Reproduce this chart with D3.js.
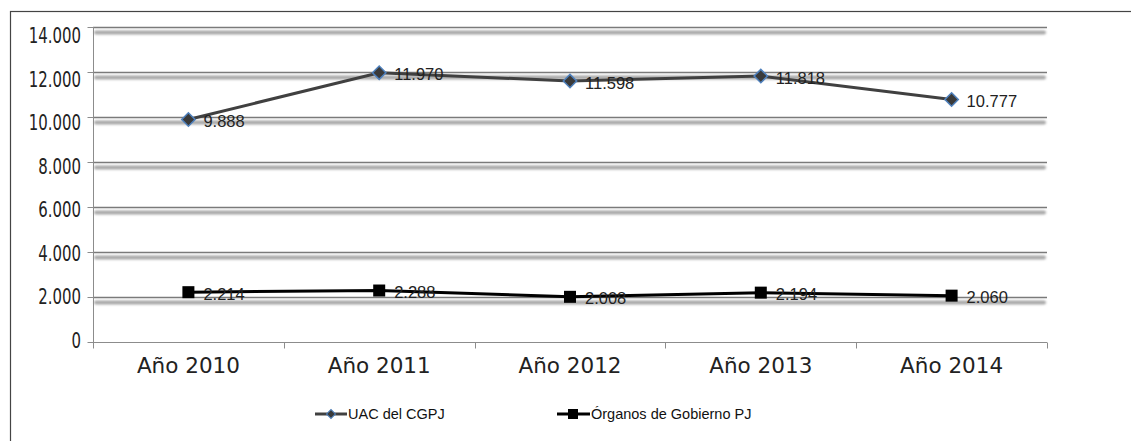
<!DOCTYPE html>
<html><head><meta charset="utf-8">
<script src="https://cdn.jsdelivr.net/npm/d3@7"></script>
<style>body{margin:0;background:#fff}</style>
</head><body>
<svg id="c" width="1131" height="441"></svg>
<script>
const categories = ["Año 2010","Año 2011","Año 2012","Año 2013","Año 2014"];
const uacValues = [9888, 11970, 11598, 11818, 10777];
const organosValues = [2214, 2288, 2008, 2194, 2060];
const yTicks = [0,2000,4000,6000,8000,10000,12000,14000];
const seriesNames = ["UAC del CGPJ","Órganos de Gobierno PJ"];

const svg = d3.select("#c");
const defs = svg.append("defs");
const f = defs.append("filter").attr("id","blur").attr("filterUnits","userSpaceOnUse")
  .attr("x",0).attr("y",0).attr("width",1131).attr("height",441);
f.append("feGaussianBlur").attr("stdDeviation","1.3");

// outer frame
svg.append("rect").attr("x",10.5).attr("y",11.5).attr("width",1140).attr("height",440)
  .attr("fill","none").attr("stroke","#444").attr("stroke-width",1.2);

const L=93, R=1047, T=27, B=342;
const x = d3.scaleBand().domain(categories).range([L,R]);
const y = d3.scaleLinear().domain([0,14000]).range([B,T]);
const fmt = v => d3.format(",")(v).replace(/,/g,".");

// gridlines with shadow
const g = svg.append("g");
yTicks.filter(t=>t>0).forEach(t=>{
  g.append("rect").attr("x",L+1).attr("width",R-L-2).attr("y",y(t)+3.5).attr("height",4).attr("rx",2)
    .attr("fill","#a8a8a8").attr("filter","url(#blur)");
  g.append("line").attr("x1",L).attr("x2",R).attr("y1",y(t)+0.5).attr("y2",y(t)+0.5)
    .attr("stroke","#7a7a7a").attr("stroke-width",1.5);
});

// y axis
const ya = svg.append("g").attr("transform",`translate(${L+0.5},0)`)
  .call(d3.axisLeft(y).tickValues(yTicks).tickSize(6).tickPadding(8).tickFormat(d=>fmt(d)));
ya.select(".domain").attr("stroke","#8c8c8c").attr("d",`M0,${T}V${B}`);
ya.selectAll(".tick line").attr("stroke","#8c8c8c");
const sx = 0.79;
ya.selectAll(".tick text").attr("font-family","'DejaVu Sans Condensed', sans-serif")
  .attr("font-size",21).attr("fill","#222")
  .attr("dy", d => (7.6 - 2.5 + (B - y(d))*0.033) + "px")
  .attr("x", -12.5/sx).attr("transform",`scale(${sx},1)`);

// x axis
const xa = svg.append("g").attr("transform",`translate(0,${B+0.5})`)
  .call(d3.axisBottom(x).tickSize(0).tickPadding(15));
xa.select(".domain").attr("stroke","#8c8c8c").attr("d",`M${L},0H${R}`);
xa.selectAll(".tick text").attr("font-family","DejaVu Sans").attr("font-size",21.5).attr("fill","#222");
const bounds = categories.map(c=>x(c)).concat([R]);
bounds.forEach(bx=>{
  xa.append("line").attr("x1",Math.round(bx)+0.5).attr("x2",Math.round(bx)+0.5).attr("y1",0).attr("y2",6).attr("stroke","#8c8c8c");
});

const cx = c => x(c)+x.bandwidth()/2;

// lines
const line = d3.line().x((d,i)=>cx(categories[i])).y(d=>y(d));
svg.append("path").datum(uacValues).attr("d",line).attr("fill","none").attr("stroke","#404040").attr("stroke-width",3);
svg.append("path").datum(organosValues).attr("d",line).attr("fill","none").attr("stroke","#000").attr("stroke-width",3);

uacValues.forEach((v,i)=>{
  svg.append("path").attr("d",d3.symbol().type(d3.symbolSquare).size(90)())
    .attr("transform",`translate(${cx(categories[i])},${y(v)}) rotate(45)`)
    .attr("fill","#3a3a3a").attr("stroke","#4f81bd").attr("stroke-width",1.5);
  svg.append("text").attr("x",cx(categories[i])+15).attr("y",y(v)+7.5)
    .attr("font-family","Liberation Sans").attr("font-size",16.5).attr("fill","#222").text(fmt(v));
});
organosValues.forEach((v,i)=>{
  svg.append("rect").attr("x",cx(categories[i])-6).attr("y",y(v)-6).attr("width",12).attr("height",12).attr("fill","#000");
  svg.append("text").attr("x",cx(categories[i])+15).attr("y",y(v)+7.5)
    .attr("font-family","Liberation Sans").attr("font-size",16.5).attr("fill","#222").text(fmt(v));
});

// legend
const lg = svg.append("g");
lg.append("line").attr("x1",315).attr("x2",347).attr("y1",414).attr("y2",414).attr("stroke","#404040").attr("stroke-width",3);
lg.append("path").attr("d",d3.symbol().type(d3.symbolSquare).size(40)()).attr("transform","translate(331,414) rotate(45)")
  .attr("fill","#3a3a3a").attr("stroke","#4f81bd").attr("stroke-width",1);
lg.append("text").attr("x",348).attr("y",419).attr("font-family","Liberation Sans").attr("font-size",14.5).attr("fill","#111").text(seriesNames[0]);
lg.append("line").attr("x1",557).attr("x2",590).attr("y1",414).attr("y2",414).attr("stroke","#000").attr("stroke-width",3);
lg.append("rect").attr("x",568).attr("y",409).attr("width",10).attr("height",10).attr("fill","#000");
lg.append("text").attr("x",591).attr("y",419).attr("font-family","Liberation Sans").attr("font-size",14.5).attr("fill","#111").text(seriesNames[1]);
</script>
</body></html>
